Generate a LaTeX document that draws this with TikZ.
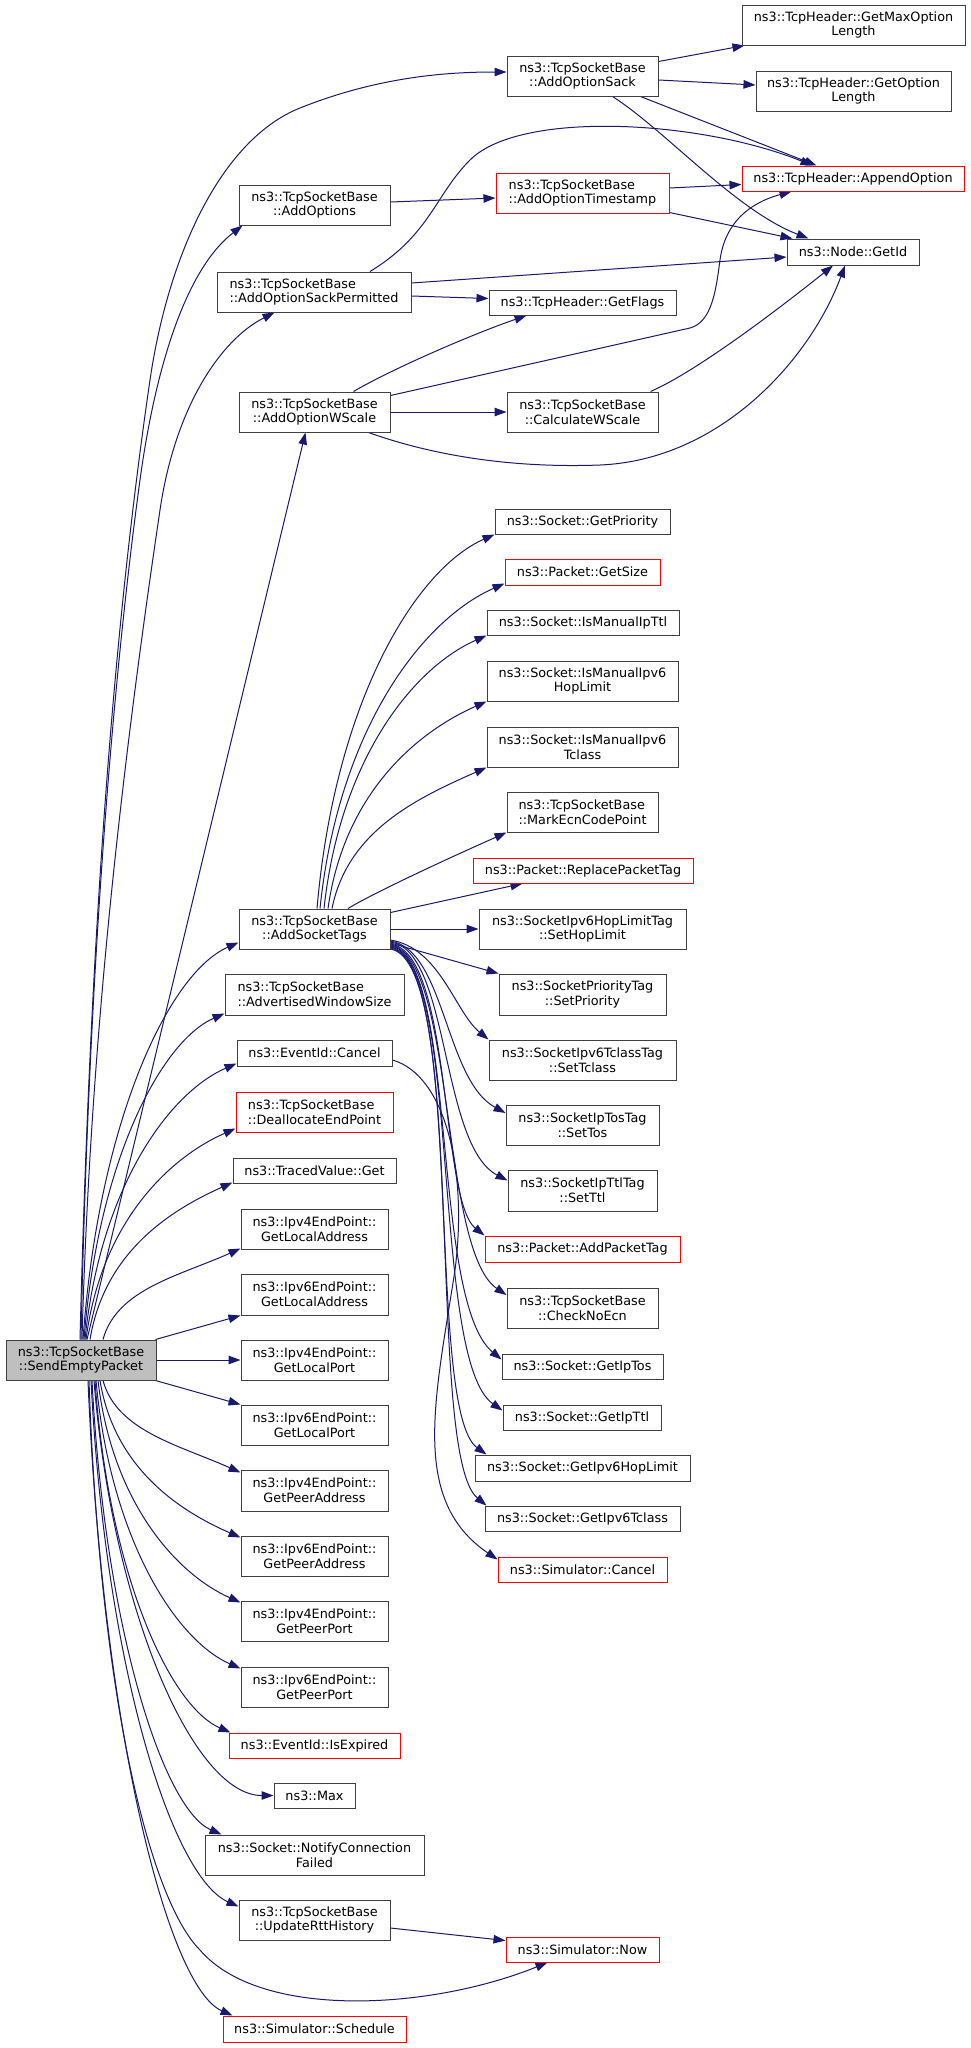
\documentclass[tikz,border=0pt]{standalone}
\usepackage{fontspec}
\setmainfont{DejaVu Sans}
\usetikzlibrary{arrows.meta,calc}
\definecolor{edgec}{HTML}{191970}
\definecolor{boxc}{HTML}{404040}
\definecolor{redc}{HTML}{FF0000}
\definecolor{sepfill}{HTML}{BFBFBF}
\pgfdeclarelayer{bg}
\pgfdeclarelayer{edges}
\pgfsetlayers{bg,edges,main}
\tikzset{
  nbox/.style={draw=boxc, line width=1pt, fill=white, inner sep=0pt, align=center,
    text=black, font=\fontsize{12.8}{14.7}\selectfont},
  rbox/.style={nbox, draw=redc},
  lft/.style={align=left},
  conn/.style={draw=edgec, line width=1pt, -{Triangle[length=12pt,width=8.5pt]}},
}
\newcommand\mkbox[6]{\node[#1, minimum width=#2pt, minimum height=#3pt] (#4) at (#5) {#6};}
\begin{document}
\begin{tikzpicture}[x=1pt,y=-1pt]
\begin{pgfonlayer}{bg}
\fill[white] (0,0) rectangle (971,2048);
\end{pgfonlayer}
\useasboundingbox (0,0) rectangle (971,2048);

% root
\mkbox{nbox,fill=sepfill}{150}{40}{sep}{81,1360}{ns3::TcpSocketBase\\::SendEmptyPacket}

% column 2
\mkbox{nbox}{151}{40}{opts}{314.5,205}{ns3::TcpSocketBase\\::AddOptions}
\mkbox{nbox,lft}{194}{40}{sackp}{314,292}{ns3::TcpSocketBase\\::AddOptionSackPermitted}
\mkbox{nbox}{151}{40}{wscale}{314.5,412}{ns3::TcpSocketBase\\::AddOptionWScale}
\mkbox{nbox}{151}{40}{ast}{314.5,929}{ns3::TcpSocketBase\\::AddSocketTags}
\mkbox{nbox,lft}{179}{41}{adv}{314.5,994.5}{ns3::TcpSocketBase\\::AdvertisedWindowSize}
\mkbox{nbox}{155}{26}{ecancel}{314.5,1053}{ns3::EventId::Cancel}
\mkbox{rbox,lft}{157}{40}{dealloc}{314.5,1112}{ns3::TcpSocketBase\\::DeallocateEndPoint}
\mkbox{nbox}{163}{25}{traced}{314.5,1170.5}{ns3::TracedValue::Get}
\mkbox{nbox}{147}{40}{v4la}{314.5,1229}{ns3::Ipv4EndPoint::\\GetLocalAddress}
\mkbox{nbox}{147}{41}{v6la}{314.5,1294.5}{ns3::Ipv6EndPoint::\\GetLocalAddress}
\mkbox{nbox}{147}{40}{v4lp}{314.5,1360}{ns3::Ipv4EndPoint::\\GetLocalPort}
\mkbox{nbox}{147}{40}{v6lp}{314.5,1425}{ns3::Ipv6EndPoint::\\GetLocalPort}
\mkbox{nbox}{147}{41}{v4pa}{314.5,1490.5}{ns3::Ipv4EndPoint::\\GetPeerAddress}
\mkbox{nbox}{147}{40}{v6pa}{314.5,1556}{ns3::Ipv6EndPoint::\\GetPeerAddress}
\mkbox{nbox}{147}{40}{v4pp}{314.5,1621}{ns3::Ipv4EndPoint::\\GetPeerPort}
\mkbox{nbox}{147}{40}{v6pp}{314.5,1687}{ns3::Ipv6EndPoint::\\GetPeerPort}
\mkbox{rbox}{171}{25}{expired}{314.5,1745.5}{ns3::EventId::IsExpired}
\mkbox{nbox}{81}{25}{max}{314.5,1795.5}{ns3::Max}
\mkbox{nbox}{219}{40}{notify}{314.5,1855}{ns3::Socket::NotifyConnection\\Failed}
\mkbox{nbox}{151}{40}{rtt}{314.5,1920}{ns3::TcpSocketBase\\::UpdateRttHistory}
\mkbox{rbox}{183}{26}{sched}{314.5,2029}{ns3::Simulator::Schedule}

% column 3
\mkbox{nbox}{151}{40}{sack}{582.5,76}{ns3::TcpSocketBase\\::AddOptionSack}
\mkbox{rbox,lft}{173}{40}{ts}{582.5,193}{ns3::TcpSocketBase\\::AddOptionTimestamp}
\mkbox{nbox}{187}{25}{flags}{582.5,302.5}{ns3::TcpHeader::GetFlags}
\mkbox{nbox}{151}{40}{cws}{582.5,412}{ns3::TcpSocketBase\\::CalculateWScale}
\mkbox{nbox}{175}{25}{gprio}{582.5,521.5}{ns3::Socket::GetPriority}
\mkbox{rbox}{155}{26}{gsize}{582.5,572}{ns3::Packet::GetSize}
\mkbox{nbox}{192}{25}{imttl}{583,622.5}{ns3::Socket::IsManualIpTtl}
\mkbox{nbox}{191}{40}{imhop}{582.5,681}{ns3::Socket::IsManualIpv6\\HopLimit}
\mkbox{nbox}{191}{40}{imtc}{582.5,747}{ns3::Socket::IsManualIpv6\\Tclass}
\mkbox{nbox,lft}{151}{40}{mark}{582.5,812}{ns3::TcpSocketBase\\::MarkEcnCodePoint}
\mkbox{rbox}{220}{25}{repl}{583,870.5}{ns3::Packet::ReplacePacketTag}
\mkbox{nbox}{207}{40}{shop}{582.5,929}{ns3::SocketIpv6HopLimitTag\\::SetHopLimit}
\mkbox{nbox}{167}{41}{sprio}{582.5,994.5}{ns3::SocketPriorityTag\\::SetPriority}
\mkbox{nbox}{187}{40}{stc}{582.5,1060}{ns3::SocketIpv6TclassTag\\::SetTclass}
\mkbox{nbox}{153}{40}{stos}{582.5,1125}{ns3::SocketIpTosTag\\::SetTos}
\mkbox{nbox}{149}{41}{sttl}{582.5,1190.5}{ns3::SocketIpTtlTag\\::SetTtl}
\mkbox{rbox}{195}{26}{apt}{582.5,1249}{ns3::Packet::AddPacketTag}
\mkbox{nbox}{151}{40}{noecn}{582.5,1308}{ns3::TcpSocketBase\\::CheckNoEcn}
\mkbox{nbox}{161}{25}{gitos}{582.5,1366.5}{ns3::Socket::GetIpTos}
\mkbox{nbox}{158}{25}{gittl}{582,1417.5}{ns3::Socket::GetIpTtl}
\mkbox{nbox}{215}{26}{ghop}{582.5,1468}{ns3::Socket::GetIpv6HopLimit}
\mkbox{nbox}{195}{25}{gtc}{582.5,1518.5}{ns3::Socket::GetIpv6Tclass}
\mkbox{rbox}{169}{25}{scancel}{582.5,1569.5}{ns3::Simulator::Cancel}
\mkbox{rbox}{153}{25}{snow}{582.5,1949.5}{ns3::Simulator::Now}

% column 4
\mkbox{nbox}{223}{40}{gmax}{853.5,25}{ns3::TcpHeader::GetMaxOption\\Length}
\mkbox{nbox}{195}{40}{gopt}{853.5,91}{ns3::TcpHeader::GetOption\\Length}
\mkbox{rbox}{222}{25}{app}{853,178.5}{ns3::TcpHeader::AppendOption}
\mkbox{nbox}{132}{26}{gid}{853,252}{ns3::Node::GetId}

\begin{pgfonlayer}{edges}
% ---- top cluster
\draw[conn] ($(sack.north east)+(0,6)$) -- ($(gmax.south west)+(3,0)$);
\draw[conn] ($(sack.east)+(0,4)$) -- ($(gopt.west)+(0,-6)$);
\draw[conn] ($(sack.south east)+(-18,0)$) -- ($(app.north west)+(75,0)$);
\draw[conn] ($(sack.south)+(30,0)$) .. controls (665,130) and (735,210) .. ($(gid.north west)+(22,0)$);
\draw[conn] ($(ts.east)+(0,-5)$) -- ($(app.west)+(0,6)$);
\draw[conn] ($(ts.south east)+(0,-1)$) -- ($(gid.north west)+(6,0)$);
\draw[conn] ($(opts.east)+(0,-3)$) -- ($(ts.west)+(0,5)$);
\draw[conn] ($(sackp.north)+(56,0)$) .. controls (430,235) and (435,195) .. (470,160)
   .. controls (520,110) and (700,120) .. ($(app.north west)+(71,0)$);
\draw[conn] ($(sackp.east)+(0,-9)$) -- ($(gid.west)+(0,5)$);
\draw[conn] ($(sackp.east)+(0,4)$) -- ($(flags.west)+(0,-4)$);
\draw[conn] ($(wscale.north)+(39,0)$) .. controls (390,370) and (470,335) .. ($(flags.south west)+(38,0)$);
\draw[conn] ($(wscale.north east)+(0,4)$) -- (690,328) .. controls (712,322) and (716,290) .. (720,260)
   .. controls (726,215) and (760,200) .. ($(app.south west)+(50,0)$);
\draw[conn] (wscale.east) -- (cws.west);
\draw[conn] ($(wscale.south east)+(-22,0)$) .. controls (440,458) and (520,468) .. (600,465)
   .. controls (720,460) and (810,360) .. ($(gid.south)+(-8,0)$);
\draw[conn] ($(cws.north east)+(-8,0)$) .. controls (700,370) and (790,300) .. ($(gid.south)+(-20,0)$);

% ---- root upward
\draw[conn] ($(sep.north)+(-1,0)$) .. controls (90,950) and (112,640) .. (150,380)
   .. controls (168,257) and (220,140) .. (300,108)
   .. controls (380,76) and (450,72) .. ($(sack.west)+(0,-4)$);
\draw[conn] (sep.north) .. controls (88,1000) and (110,700) .. (140,480)
   .. controls (155,370) and (185,270) .. ($(opts.south west)+(4,0)$);
\draw[conn] ($(sep.north)+(1,0)$) .. controls (90,1050) and (120,780) .. (160,510)
   .. controls (175,408) and (220,340) .. ($(sackp.south west)+(58,0)$);
\draw[conn] ($(sep.north)+(6,0)$) -- ($(wscale.south)+(-9,0)$);
\draw[conn] ($(sep.north)+(2,0)$) .. controls (98.6,1121) and (168.8,973) .. ($(ast.south west)+(0,-7)$);
\draw[conn] ($(sep.north)+(3,0)$) .. controls (98.1,1160) and (161.6,1041) .. ($(adv.south west)+(0,-2)$);
\draw[conn] ($(sep.north)+(4,0)$) .. controls (100.2,1188) and (168.6,1093) .. ($(ecancel.south west)+(0,-3)$);
\draw[conn] ($(sep.north)+(5,0)$) .. controls (101,1223) and (168.5,1158) .. ($(dealloc.south west)+(0,-4)$);
\draw[conn] ($(sep.north)+(9,0)$) .. controls (104.3,1253) and (168.7,1211) .. ($(traced.south west)+(0,-1)$);
\draw[conn] ($(sep.north)+(22,0)$) .. controls (116.8,1289) and (178.9,1276) .. ($(v4la.south west)+(0,-1)$);
\draw[conn] ($(sep.north east)+(-1,0)$) -- (v6la.south west);
\draw[conn] (sep.east) -- (v4lp.west);
\draw[conn] ($(sep.south east)+(-1,0)$) -- (v6lp.north west);

% ---- root downward
\draw[conn] ($(sep.south)+(22,0)$) .. controls (116.8,1431) and (178.9,1445) .. ($(v4pa.north west)+(0,3)$);
\draw[conn] ($(sep.south)+(19,0)$) .. controls (114.1,1467) and (177.6,1510) .. ($(v6pa.north west)+(0,2)$);
\draw[conn] ($(sep.south)+(17,0)$) .. controls (112.3,1503) and (176.7,1574) .. ($(v4pp.north west)+(0,2)$);
\draw[conn] ($(sep.south)+(15,0)$) .. controls (110.5,1539) and (175.8,1640) .. ($(v6pp.north west)+(0,2)$);
\draw[conn] ($(sep.south)+(14,0)$) .. controls (108.6,1574) and (169.8,1706) .. ($(expired.north west)+(2,0)$);
\draw[conn] ($(sep.south)+(13,0)$) .. controls (112,1608) and (193,1795.5) .. (max.west);
\draw[conn] ($(sep.south)+(11,0)$) .. controls (105,1630) and (163.5,1809) .. ($(notify.north west)+(17,0)$);
\draw[conn] ($(sep.south)+(10,0)$) .. controls (105.8,1670) and (172.4,1877) .. ($(rtt.north west)+(0,7)$);
\draw[conn] ($(sep.south)+(8,0)$) .. controls (100,1700) and (150,1900) .. (200,1950)
   .. controls (260,2020) and (430,2010) .. ($(snow.south west)+(42,0)$);
\draw[conn] ($(sep.south)+(7,0)$) .. controls (102.5,1730) and (167.8,1987) .. ($(sched.north west)+(10,0)$);

% ---- AddSocketTags upward
\draw[conn] ($(ast.north)+(2.5,0)$) .. controls (334.8,702.8) and (414.9,569.6) .. (gprio.south west);
\draw[conn] ($(ast.north)+(5.5,0)$) .. controls (338.5,729.7) and (421.8,620) .. ($(gsize.south west)+(0,-2)$);
\draw[conn] ($(ast.north)+(9.5,0)$) .. controls (340.3,758.3) and (413.7,667.6) .. (imttl.south west);
\draw[conn] ($(ast.north)+(13.5,0)$) .. controls (343.9,794.6) and (415.5,732.8) .. (imhop.south west);
\draw[conn] ($(ast.north)+(17.5,0)$) .. controls (347.5,830.9) and (417.3,798) .. (imtc.south west);
\draw[conn] ($(ast.north)+(33.5,0)$) .. controls (370,895) and (435.5,864) .. (mark.south west);
\draw[conn] ($(ast.north east)+(0,4)$) -- ($(repl.south west)+(50,0)$);
\draw[conn] (ast.east) -- (shop.west);
\draw[conn] ($(ast.east)+(0,14)$) -- (sprio.north west);

% ---- AddSocketTags downward bundle
\draw[conn] ($(ast.east)+(0,11)$) .. controls (440,948) and (455,1012) .. (stc.north west);
\draw[conn] ($(ast.east)+(0,12)$) .. controls (445,950) and (445,1080) .. ($(stos.west)+(0,-12)$);
\draw[conn] ($(ast.east)+(0,13)$) .. controls (450,950) and (440,1145) .. ($(sttl.west)+(0,-10)$);
\draw[conn] ($(ast.east)+(0,15)$) .. controls (452,952) and (440,1200) .. (apt.north west);
\draw[conn] ($(ast.east)+(0,16)$) .. controls (455,955) and (440,1250) .. ($(noecn.west)+(0,-13)$);
\draw[conn] ($(ast.east)+(0,17)$) .. controls (458,956) and (430,1300) .. ($(gitos.north west)+(0,6)$);
\draw[conn] ($(ast.east)+(0,18)$) .. controls (462,958) and (430,1360) .. ($(gittl.north west)+(0,6)$);
\draw[conn] ($(ast.east)+(0,19)$) .. controls (465,960) and (425,1410) .. ($(ghop.north west)+(12,0)$);
\draw[conn] ($(ast.east)+(0,20)$) .. controls (468,962) and (425,1455) .. ($(gtc.north west)+(2,0)$);

% ---- others
\draw[conn] ($(ecancel.east)+(0,7)$) .. controls (445,1075) and (468,1170) .. (455,1270)
   .. controls (435,1400) and (410,1500) .. ($(scancel.north west)+(0,3)$);
\draw[conn] ($(rtt.east)+(0,8)$) -- ($(snow.west)+(0,-9)$);
\end{pgfonlayer}
\end{tikzpicture}
\end{document}
